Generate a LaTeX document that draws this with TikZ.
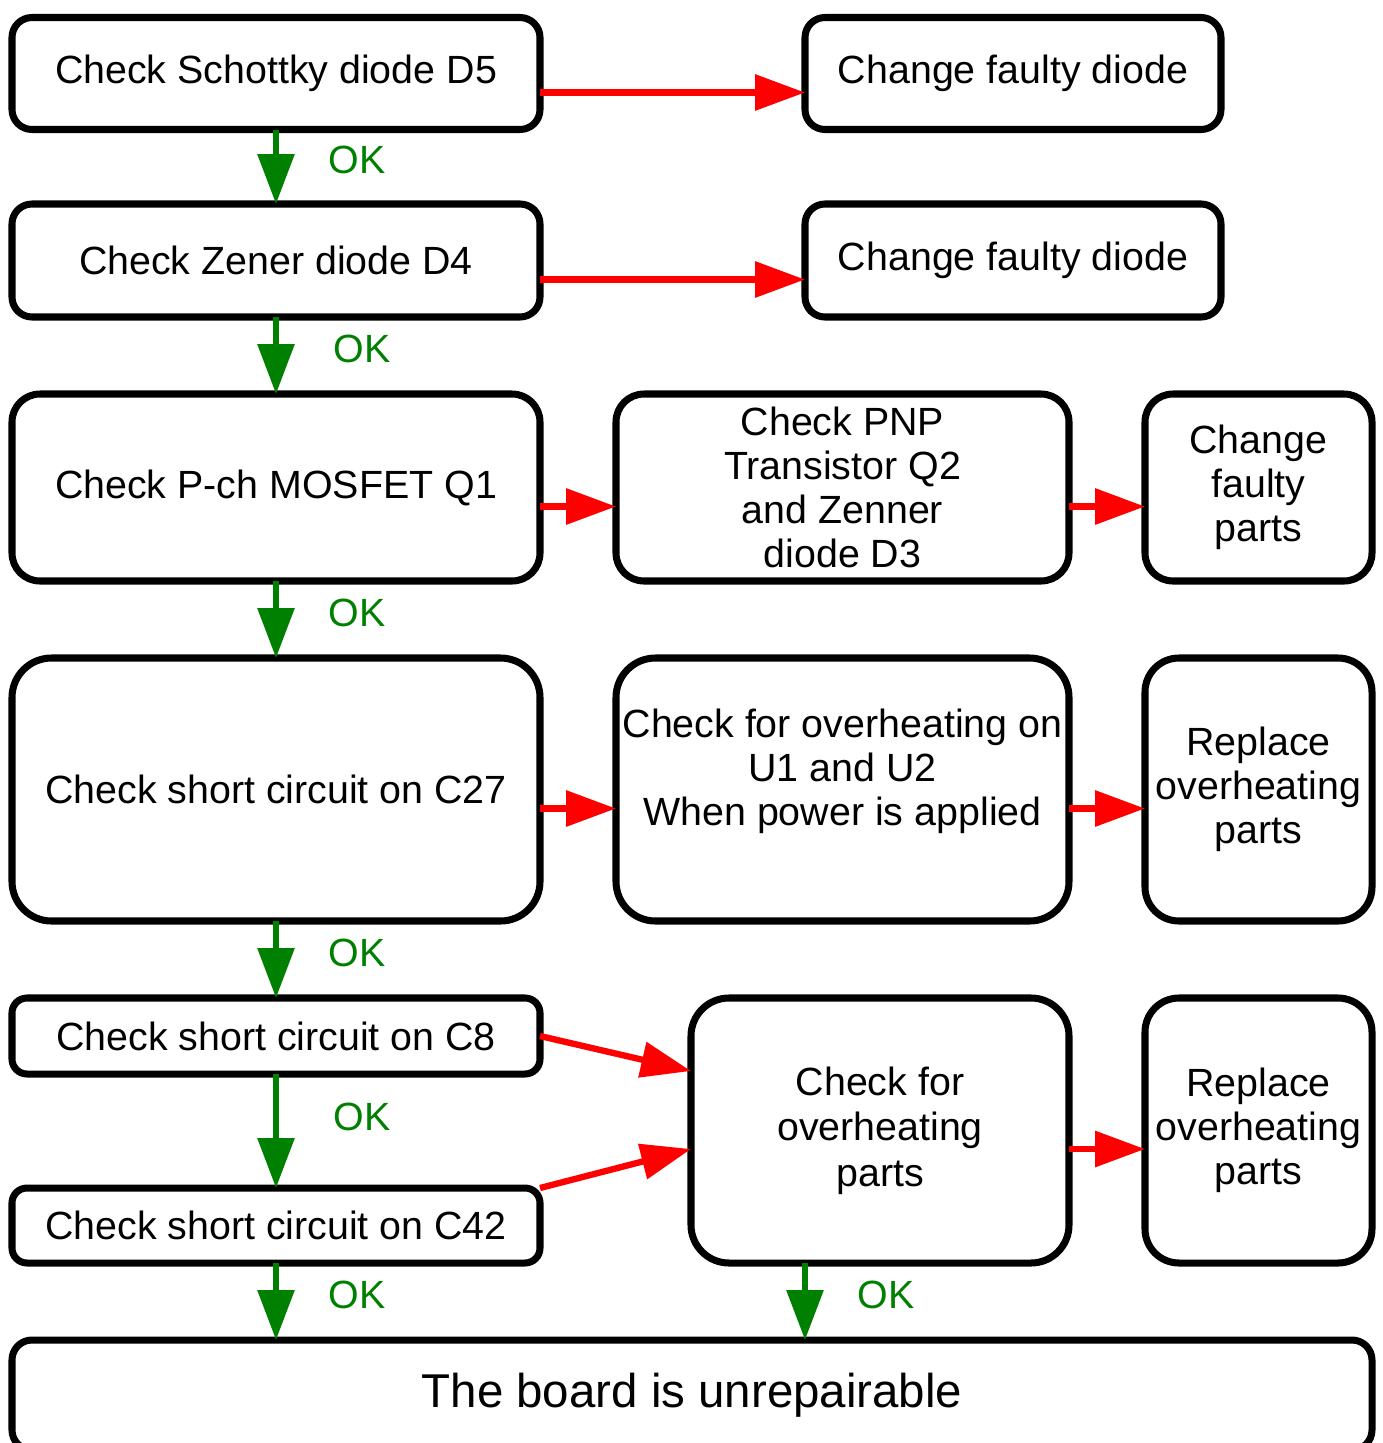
\documentclass[tikz,border=0pt]{standalone}
\usepackage{fontspec}
\setmainfont{Liberation Sans}
\usetikzlibrary{arrows.meta}
\definecolor{okgreen}{rgb}{0,0.5,0}
\tikzset{
	box/.style={draw, line width=4pt, rounded corners=#1, align=center, inner sep=0pt, outer sep=0pt, font=\fontsize{22.4pt}{25pt}\selectfont},
	box/.default=0.4cm,
	okarrow/.style={draw=okgreen, line width=3.4pt, -{Triangle[length=1cm,width=0.72cm]}},
	failarrow/.style={draw=red, line width=3.6pt, -{Triangle[length=1cm,width=0.7cm]}},
	oklabel/.style={right=1cm, yshift=0.13cm, inner sep=0pt, text=okgreen, font=\fontsize{22.4pt}{25pt}\selectfont},
}
\begin{document}
\begin{tikzpicture}
		\useasboundingbox (0,0) rectangle (27.66,-28.86);

		\node[box, minimum width=10.56cm, minimum height=2.24cm] (d5) at (5.52,-1.47) {Check Schottky diode D5};
		\node[box, minimum width=8.32cm, minimum height=2.24cm] (fixd5) at (20.26,-1.47) {Change faulty diode};
		\node[box, minimum width=10.56cm, minimum height=2.26cm] (d4) at (5.52,-5.21) {Check Zener diode D4};
		\node[box, minimum width=8.32cm, minimum height=2.26cm] (fixd4) at (20.26,-5.21) {Change faulty diode};

		\node[box=0.56cm, minimum width=10.56cm, minimum height=3.74cm] (q1) at (5.52,-9.75) {Check P-ch MOSFET Q1};
		\node[box=0.56cm, minimum width=9.06cm, minimum height=3.74cm] (q2) at (16.85,-9.75) {Check PNP\\Transistor Q2\\and Zenner\\diode D3};
		\node[box=0.56cm, minimum width=4.54cm, minimum height=3.74cm] (fixq) at (25.17,-9.75) {Change\\faulty\\parts};

		\node[box=0.79cm, minimum width=10.56cm, minimum height=5.26cm] (c27) at (5.52,-15.79) {Check short circuit on C27};
		\node[box=0.79cm, minimum width=9.06cm, minimum height=5.26cm] (heatu) at (16.85,-15.79) {Check for overheating on\\U1 and U2\\When power is applied\\\mbox{}};
		\node[box=0.68cm, minimum width=4.54cm, minimum height=5.26cm] (replu) at (25.17,-15.79) {Replace\\overheating\\parts};

		\node[box=0.3cm, minimum width=10.56cm, minimum height=1.52cm] (c8) at (5.52,-20.72) {Check short circuit on C8};
		\node[box=0.3cm, minimum width=10.56cm, minimum height=1.5cm] (c42) at (5.52,-24.51) {Check short circuit on C42};
		\node[box=0.76cm, minimum width=7.56cm, minimum height=5.3cm, font=\fontsize{22.4pt}{26pt}\selectfont] (heat) at (17.6,-22.61) {Check for\\overheating\\parts};
		\node[box=0.68cm, minimum width=4.54cm, minimum height=5.3cm] (repl) at (25.17,-22.61) {Replace\\overheating\\parts};

		\node[box, minimum width=27.2cm, minimum height=2.2cm, font=\fontsize{27pt}{30pt}\selectfont] (dead) at (13.84,-27.9) {The board is unrepairable};

		% OK path
		\draw[okarrow] (d5.south) -- node[oklabel] (ok1) {OK} (d4.north);
		\draw[okarrow] (d4.south) -- node[oklabel, xshift=0.1cm] (ok2) {OK} (q1.north);
		\draw[okarrow] (q1.south) -- node[oklabel] (ok3) {OK} (c27.north);
		\draw[okarrow] (c27.south) -- node[oklabel] (ok4) {OK} (c8.north);
		\draw[okarrow] (c8.south) -- node[oklabel, xshift=0.1cm, yshift=0.15cm] (ok5) {OK} (c42.north);
		\draw[okarrow] (c42.south) -- node[oklabel] (ok6) {OK} (c42.south |- dead.north);
		\draw[okarrow] ([xshift=-1.5cm]heat.south) -- node[oklabel] (ok7) {OK} ([xshift=-1.5cm]heat.south |- dead.north);

		% faults
		\draw[failarrow] ([yshift=-0.38cm]d5.east) -- ([yshift=-0.38cm]fixd5.west);
		\draw[failarrow] ([yshift=-0.38cm]d4.east) -- ([yshift=-0.38cm]fixd4.west);
		\draw[failarrow] ([yshift=-0.38cm]q1.east) -- ([yshift=-0.38cm]q2.west);
		\draw[failarrow] ([yshift=-0.38cm]q2.east) -- ([yshift=-0.38cm]fixq.west);
		\draw[failarrow] ([yshift=-0.38cm]c27.east) -- ([yshift=-0.38cm]heatu.west);
		\draw[failarrow] ([yshift=-0.38cm]heatu.east) -- ([yshift=-0.38cm]replu.west);
		\draw[failarrow] (c8.east) -- ([yshift=1.19cm]heat.west);
		\draw[failarrow] (c42.north east) -- ([yshift=-0.37cm]heat.west);
		\draw[failarrow] ([yshift=-0.37cm]heat.east) -- ([yshift=-0.37cm]repl.west);

	\end{tikzpicture}
\end{document}
